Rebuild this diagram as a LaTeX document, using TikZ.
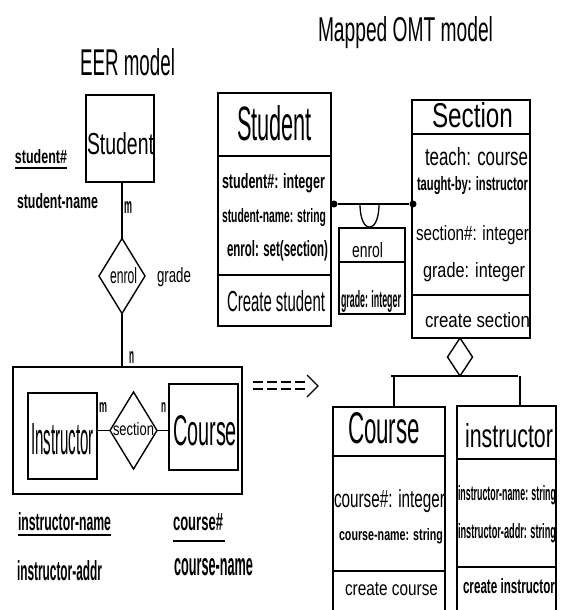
\documentclass[tikz,border=0pt]{standalone}
\usepackage{graphicx}
\usepackage{fontspec}
\setmainfont{Liberation Sans}
\usetikzlibrary{shapes.geometric}
\newcommand\fitt[3]{\resizebox{#1pt}{#2pt}{#3}}
\newcommand\fitb[3]{\resizebox{#1pt}{#2pt}{\bfseries #3}}
\begin{document}
\begin{tikzpicture}[x=1pt,y=-1pt,
  box/.style={draw, line width=1.4pt, inner sep=0pt, outer sep=0pt, anchor=north west},
  obox/.style={draw=none, inner sep=0pt, outer sep=0pt, anchor=north west},
  dia/.style={draw, diamond, line width=1.4pt, inner sep=0pt, outer sep=0pt},
  txt/.style={inner sep=0pt, outer sep=0pt, anchor=base west},
  dot/.style={circle, fill, inner sep=0pt, minimum size=7pt},
  conn/.style={line width=1.4pt},
  uline/.style={line width=1.2pt},
  dashl/.style={line width=1.2pt, dash pattern=on 10pt off 4pt}]
\useasboundingbox (0,0) rectangle (565,610);
\fill[white] (0,0) rectangle (565,610);

% ---------------- EER model ----------------
\node[txt] (eerT) at (80,75) {\fitt{95}{27}{EER model}};
\node[box, minimum width=68pt, minimum height=87pt] (erStu) at (86,95) {};
\node[txt] (erStuT) at (87,154) {\fitt{67}{22}{Student}};
\node[txt] (aStuNo) at (15,163) {\fitb{52}{14}{student\#}};
\draw[uline] ([yshift=-5pt]aStuNo.base west) -- ([yshift=-5pt]aStuNo.base east);
\node[txt] (aStuName) at (17,208) {\fitb{81}{15}{student-name}};
\node[dia, minimum width=46pt, minimum height=75pt] (enrolD) at (122,276) {};
\node[txt] (enrolT) at (110,283) {\fitt{27}{16}{enrol}};
\node[txt] (gradeT) at (157,282) {\fitt{34}{15}{grade}};
\draw[conn] (erStu.south -| enrolD.north) -- (enrolD.north);
\node[txt] (m1) at (124,213) {\fitb{8}{12}{m}};
\node[box, minimum width=229pt, minimum height=127pt] (agg) at (13,367) {};
\draw[conn] (enrolD.south) -- (enrolD.south |- agg.north);
\node[txt] (n1) at (129,363) {\fitb{5}{12}{n}};
\node[box, minimum width=69pt, minimum height=86pt] (instr) at (28,393) {};
\node[txt] (instrT) at (31,454) {\fitt{63}{31}{Instructor}};
\node[dia, minimum width=47pt, minimum height=77pt] (secD) at (133.5,430.5) {};
\node[txt] (secT) at (113,435) {\fitt{41}{13}{section}};
\node[box, minimum width=69pt, minimum height=86pt] (course) at (169,384) {};
\node[txt] (courseT) at (173,445) {\fitt{64}{30}{Course}};
\draw[conn] (instr.east |- secD.west) -- (secD.west);
\draw[conn] (secD.east) -- (secD.east -| course.west);
\node[txt] (m2) at (99,412) {\fitb{8}{10}{m}};
\node[txt] (n2) at (161,412) {\fitb{5}{10}{n}};
\node[txt] (aInName) at (18,530) {\fitb{93}{18}{instructor-name}};
\draw[uline] ([yshift=-5pt]aInName.base west) -- ([yshift=-5pt]aInName.base east);
\node[txt] (aCNo) at (173,530) {\fitb{50}{17}{course\#}};
\draw[uline] ([yshift=-11pt]aCNo.base west) -- ([yshift=-11pt,xshift=2pt]aCNo.base east);
\node[txt] (aInAddr) at (17,580) {\fitb{85}{20}{instructor-addr}};
\node[txt] (aCName) at (174,575) {\fitb{79}{17}{course-name}};

% ---------------- mapping arrow ----------------
\coordinate (a1s) at (253,382); \coordinate (a1e) at (307,382);
\coordinate (a2s) at (253,389); \coordinate (a2e) at (307,389);
\coordinate (chT) at (307,375); \coordinate (chM) at (318,386); \coordinate (chB) at (307,397);
\draw[dashl] (a1s) -- (a1e);
\draw[dashl] (a2s) -- (a2e);
\draw[line width=1.2pt] (chT) -- (chM) -- (chB);

% ---------------- OMT model ----------------
\node[txt] (omtT) at (318,42) {\fitt{175}{25}{Mapped OMT model}};

% Student class
\node[box, minimum width=113pt, minimum height=233pt] (stC) at (218,93) {};
\draw[conn] (stC.west |- 0,156) -- (stC.east |- 0,156);
\draw[conn] (stC.west |- 0,275) -- (stC.east |- 0,275);
\node[txt] (stCT) at (237,140) {\fitt{75}{35}{Student}};
\node[txt] (stA1) at (222,188) {\fitb{103}{15}{student\#: integer}};
\node[txt] (stA2) at (222,222) {\fitb{104}{14}{student-name: string}};
\node[txt] (stA3) at (227,256) {\fitb{101}{16}{enrol: set(section)}};
\node[txt] (stM1) at (227,311) {\fitt{98}{21}{Create student}};

% enrol link class
\node[box, minimum width=66pt, minimum height=86pt] (enC) at (339,228) {};
\draw[conn] (enC.west |- 0,262) -- (enC.east |- 0,262);
\node[txt] (enCT) at (352,257) {\fitt{31}{15}{enrol}};
\node[txt] (enCA) at (341,307) {\fitb{60}{17}{grade: integer}};

% Section class
\node[box, minimum width=118pt, minimum height=238pt] (secC) at (412,100) {};
\draw[conn] (secC.west |- 0,134) -- (secC.east |- 0,134);
\draw[conn] (secC.west |- 0,295) -- (secC.east |- 0,295);
\node[txt] (secCT) at (432,127) {\fitt{81}{25}{Section}};
\node[txt] (sA1) at (425,165) {\fitt{103}{18}{teach: course}};
\node[txt] (sA2) at (417,190) {\fitb{111}{14}{taught-by: instructor}};
\node[txt] (sA3) at (416,240) {\fitt{113}{15}{section\#: integer}};
\node[txt] (sA4) at (423,277) {\fitt{102}{15}{grade: integer}};
\node[txt] (sM1) at (425,327) {\fitt{105}{15}{create section}};

% association Student -- Section with link attribute
\node[dot] (d1) at (334,204) {};
\node[dot] (d2) at (413,204) {};
\draw[conn] (d1) -- (d2);
\coordinate (arcL) at (360,204);
\coordinate (arcR) at (379,204);
\draw[line width=1.3pt] (arcL) .. controls (360,235) and (379,235) .. (arcR);

% aggregation
\node[dia, minimum width=25pt, minimum height=38pt] (aggD) at (460,357) {};
\coordinate (barL) at (391,376);
\coordinate (barR) at (518,376);
\draw[conn] (barL) -- (barR);

% Course class
\node[obox, minimum width=112pt, minimum height=203pt] (cC) at (333,407) {};
\draw[conn] (cC.south west) |- (cC.north east) -- (cC.south east);
\draw[conn] (cC.west |- 0,456) -- (cC.east |- 0,456);
\draw[conn] (cC.west |- 0,571) -- (cC.east |- 0,571);
\node[txt] (cCT) at (348,443) {\fitt{72}{31}{Course}};
\node[txt] (cA1) at (334,507) {\fitt{111}{18}{course\#: integer}};
\node[txt] (cA2) at (339,540) {\fitb{104}{12}{course-name: string}};
\node[txt] (cM1) at (345,595) {\fitt{93}{13}{create course}};

% instructor class
\node[obox, minimum width=99pt, minimum height=204pt] (iC) at (457,406) {};
\draw[conn] (iC.south west) |- (iC.north east) -- (iC.south east);
\draw[conn] (iC.west |- 0,459) -- (iC.east |- 0,459);
\draw[conn] (iC.west |- 0,567) -- (iC.east |- 0,567);
\node[txt] (iCT) at (465,447) {\fitt{88}{24}{instructor}};
\node[txt] (iA1) at (458,500) {\fitb{98}{15}{instructor-name: string}};
\node[txt] (iA2) at (458,538) {\fitb{98}{15}{instructor-addr: string}};
\node[txt] (iM1) at (463,593) {\fitb{92}{15}{create instructor}};

% aggregation branches
\coordinate (vc) at (394,376);
\coordinate (vi) at (520,376);
\draw[conn] (vc) -- (vc |- cC.north);
\draw[conn] (vi) -- (vi |- iC.north);
\end{tikzpicture}
\end{document}
